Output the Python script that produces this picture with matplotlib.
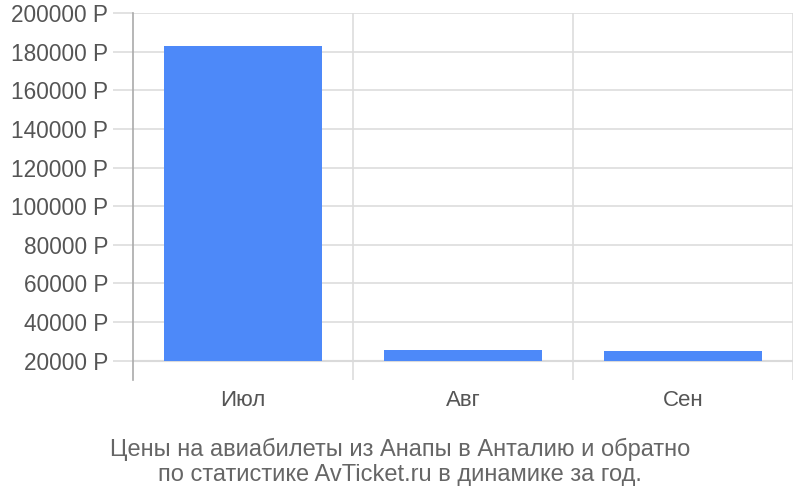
import matplotlib
matplotlib.use('Agg')
import matplotlib.pyplot as plt
from matplotlib.ticker import FuncFormatter

# Data
months = ['Июл', 'Авг', 'Сен']
prices = [183000, 25700, 24800]
base = 20000
yticks = [20000, 40000, 60000, 80000, 100000, 120000, 140000, 160000, 180000, 200000]
caption = 'Цены на авиабилеты из Анапы в Анталию и обратно\nпо статистике AvTicket.ru в динамике за год.'

plt.rcParams['font.family'] = ['Liberation Sans', 'DejaVu Sans']

fig = plt.figure(figsize=(8, 5), dpi=100)
ax = fig.add_axes([133 / 800, 120 / 500, 660 / 800, 367 / 500])

x = list(range(len(months)))
ax.bar(x, [p - base for p in prices], bottom=base, width=0.72,
       color='#4d89f9', zorder=3)

ax.set_xlim(-0.5, len(months) - 0.5)
ax.set_ylim(10000, 200000)

# Grid
ax.set_yticks(yticks)
ax.yaxis.set_major_formatter(FuncFormatter(lambda v, p: '%d Р' % v))
ax.grid(axis='y', color='#dddddd', linewidth=1.2, zorder=0)
for b in [0.5, 1.5, 2.5]:
    ax.axvline(b, color='#dddddd', linewidth=1.2, zorder=0)
ax.axhline(base, color='#cccccc', linewidth=1.5, zorder=1)

ax.set_xticks(x)
ax.set_xticklabels(months)
ax.tick_params(axis='x', length=0, pad=7, labelsize=16, labelcolor='#555555')
ax.tick_params(axis='y', length=14.4, width=1.2, color='#dddddd', pad=3.6,
               labelsize=16.3, labelcolor='#555555')

for side in ['top', 'right', 'bottom']:
    ax.spines[side].set_visible(False)
ax.spines['left'].set_color('#aaaaaa')
ax.spines['left'].set_linewidth(1.2)

fig.text(400 / 800, 1 - 462 / 500, caption, ha='center', va='center',
         fontsize=17, color='#666666', linespacing=1.2)

fig.savefig('out.png', dpi=100)
